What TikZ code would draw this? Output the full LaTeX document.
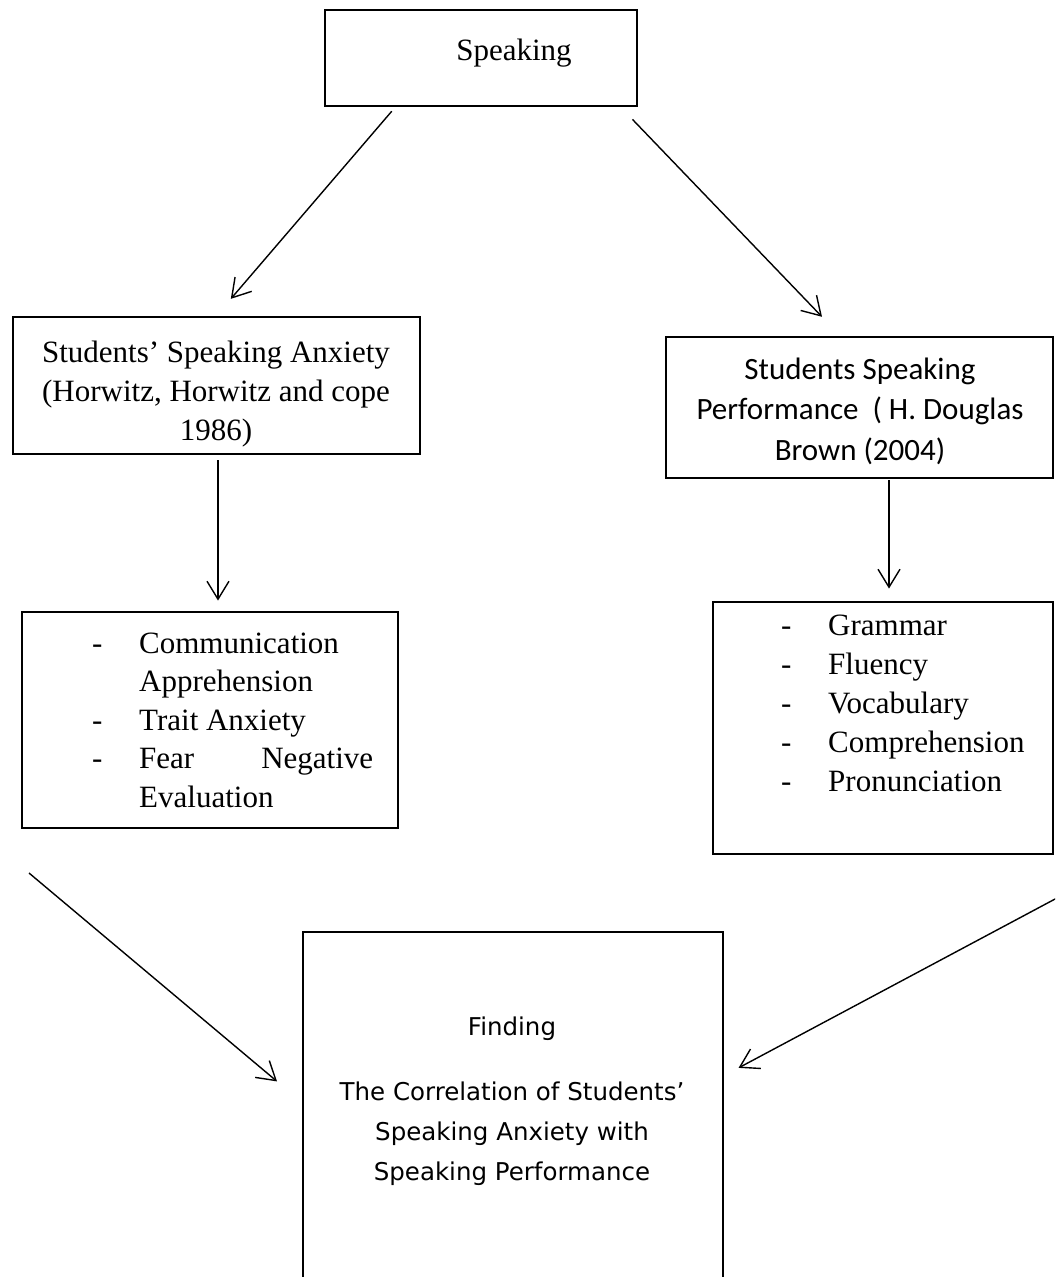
\documentclass[tikz,border=0pt]{standalone}
\usepackage{fontspec}
\setmainfont{Liberation Serif}
\newfontfamily\calibri{Carlito}
\newfontfamily\tahoma{DejaVu Sans}
\usetikzlibrary{arrows.meta}
\tikzset{
    box/.style={draw, line width=2.9pt, inner sep=0pt},
    arr/.style={line width=1.4pt, -{Straight Barb[length=18pt,width=22pt]}},
    serif/.style={inner sep=0pt, font=\fontsize{31}{39}\selectfont},
    calib/.style={inner sep=0pt, font=\calibri\fontsize{31}{40.5}\selectfont},
    tah/.style={inner sep=0pt, font=\tahoma\fontsize{24.5}{40}\selectfont},
}
\begin{document}
\begin{tikzpicture}[x=1pt, y=-1pt]
    \useasboundingbox (0,0) rectangle (1055,1277);
    \clip (0,0) rectangle (1055,1277);
    % boxes
    \node[box, minimum width=312pt, minimum height=96pt] (speak) at (481,58) {};
    \node[box, minimum width=407pt, minimum height=137pt] (anx) at (216.5,385.5) {};
    \node[box, minimum width=387pt, minimum height=141pt] (perf) at (859.5,407.5) {};
    \node[box, minimum width=376pt, minimum height=216pt] (anxlist) at (210,720) {};
    \node[box, minimum width=340pt, minimum height=252pt] (perflist) at (883,728) {};
    \node[box, minimum width=420pt, minimum height=368pt] (finding) at (513,1116) {};
    % texts
    \node[serif, anchor=base] (speaktxt) at (514,60) {Speaking};
    \node[serif, anchor=north, align=center] (anxtxt) at (216,334.7)
        {\strut Students’ Speaking Anxiety\\(Horwitz, Horwitz and cope\\1986)};
    \node[calib, anchor=north, align=center] (perftxt) at (860,350.6)
        {\strut Students Speaking\\Performance\ \ ( H. Douglas\\Brown (2004)};
    \node[serif, font=\fontsize{31}{38.5}\selectfont, anchor=north west, align=left] (anxitems) at (92,626)
        {\strut\makebox[47pt][l]{-}Communication\\
         \hspace*{47pt}Apprehension\\
         \makebox[47pt][l]{-}Trait Anxiety\\
         \makebox[47pt][l]{-}\makebox[234pt][s]{Fear Negative}\\
         \hspace*{47pt}Evaluation};
    \node[serif, anchor=north west, align=left] (perfitems) at (781,607.7)
        {\strut\makebox[47pt][l]{-}Grammar\\
         \makebox[47pt][l]{-}Fluency\\
         \makebox[47pt][l]{-}Vocabulary\\
         \makebox[47pt][l]{-}Comprehension\\
         \makebox[47pt][l]{-}Pronunciation};
    \node[tah, anchor=north, align=center] (findtxt) at (512,1007)
        {\strut Finding\\[25pt]The Correlation of Students’\\Speaking Anxiety with\\Speaking Performance};
    % arrows
    \coordinate (fromanx) at (29,873);
    \coordinate (fromperf) at (1056,898.5);
    \draw[arr, shorten <=5pt, shorten >=22pt] ([xshift=-86pt]speak.south) -- (anx.north);
    \draw[arr, shorten <=16.5pt, shorten >=26pt] ([xshift=140pt]speak.south) -- ([xshift=-19.5pt]perf.north);
    \draw[arr, shorten <=5pt, shorten >=10pt] ([xshift=1.5pt]anx.south) -- ([xshift=1.5pt]anx.south |- anxlist.north);
    \draw[arr, shorten <=1pt, shorten >=12pt] ([xshift=29.5pt]perf.south) -- ([xshift=29.5pt]perf.south |- perflist.north);
    \draw[arr, shorten >=32pt] (fromanx) -- ([yshift=14pt]finding.west);
    \draw[arr, shorten >=16pt] (fromperf) -- ([yshift=40.6pt]finding.east);
\end{tikzpicture}
\end{document}
